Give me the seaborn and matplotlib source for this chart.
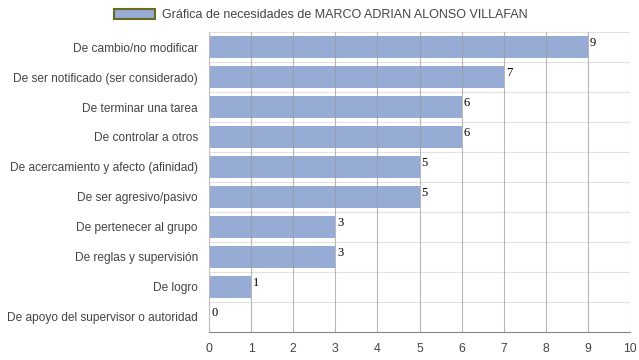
import matplotlib
matplotlib.use("Agg")
import matplotlib.pyplot as plt
import seaborn as sns
import pandas as pd
from matplotlib.patches import Patch

# Data
categories = [
    "De cambio/no modificar",
    "De ser notificado (ser considerado)",
    "De terminar una tarea",
    "De controlar a otros",
    "De acercamiento y afecto (afinidad)",
    "De ser agresivo/pasivo",
    "De pertenecer al grupo",
    "De reglas y supervisión",
    "De logro",
    "De apoyo del supervisor o autoridad",
]
values = [9, 7, 6, 6, 5, 5, 3, 3, 1, 0]
series_name = "Gráfica de necesidades de MARCO ADRIAN ALONSO VILLAFAN"
x_ticks = list(range(0, 11))

df = pd.DataFrame({"Necesidad": categories, "Valor": values})

sns.set_style("white")
plt.rcParams["font.family"] = ["Liberation Sans", "DejaVu Sans"]

bar_color = "#97acd5"

fig = plt.figure(figsize=(6.39, 3.6), dpi=100)
ax = fig.add_axes([0.327, 0.078, 0.659, 0.833])

sns.barplot(data=df, x="Valor", y="Necesidad", color=bar_color, width=0.72,
            saturation=1, linewidth=0, ax=ax, zorder=2)

ax.set_xlim(0, 10)
ax.set_ylim(len(categories) - 0.5, -0.5)
ax.set_xticks(x_ticks)
ax.set_xlabel("")
ax.set_ylabel("")

# vertical grid on top of bars, horizontal separators between rows
for xv in x_ticks[1:]:
    ax.axvline(xv, color="#9a9a9a", lw=0.8, alpha=0.7, zorder=3)
for i in range(len(categories)):
    ax.axhline(i - 0.5, color="#e2e2e2", lw=0.8, zorder=1)

for s in ["top", "right"]:
    ax.spines[s].set_visible(False)
ax.spines["left"].set_color("#bdbdbd")
ax.spines["left"].set_linewidth(0.8)
ax.spines["bottom"].set_color("#888888")
ax.spines["bottom"].set_linewidth(0.8)

ax.tick_params(axis="y", length=0, labelsize=8.6, labelcolor="#444444", pad=8)
ax.tick_params(axis="x", length=4, color="#888888", labelsize=8.8,
               labelcolor="#444444", pad=4)

# value labels
for i, v in enumerate(values):
    ax.text(v + 0.05, i - 0.12, str(v), family="Liberation Serif", fontsize=9,
            color="black", ha="left", va="center", zorder=4)

handle = Patch(facecolor=bar_color, edgecolor="#6b6b20", linewidth=1.5)
fig.legend([handle], [series_name], loc="center", bbox_to_anchor=(0.502, 0.958),
           frameon=False, fontsize=9, handlelength=3.3, handleheight=0.9,
           handletextpad=0.5, labelcolor="#444444")

plt.savefig("out.png", dpi=100)
